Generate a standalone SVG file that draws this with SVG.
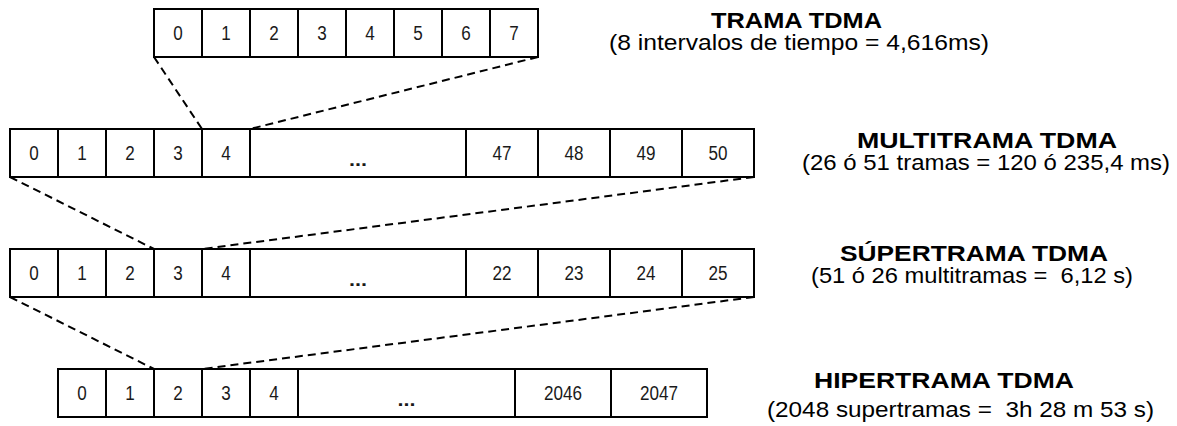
<svg xmlns="http://www.w3.org/2000/svg" width="1177" height="426" viewBox="0 0 1177 426">
  <style>
    .cell { fill: #ffffff; stroke: #000000; stroke-width: 2; }
    .num { font-family: "Liberation Sans Narrow", "Liberation Sans", Arial, sans-serif; font-size: 19.5px; fill: #1a1a1a; text-anchor: middle; }
    .dots { font-family: "Liberation Sans", Arial, sans-serif; font-size: 19px; font-weight: bold; fill: #1a1a1a; text-anchor: middle; }
    .title { font-family: "Liberation Sans", Arial, sans-serif; font-size: 22.5px; font-weight: bold; fill: #000000; text-anchor: middle; }
    .sub { font-family: "Liberation Sans", Arial, sans-serif; font-size: 21.5px; fill: #000000; text-anchor: middle; white-space: pre; }
    .link { fill: none; stroke: #000000; stroke-width: 2; stroke-dasharray: 8 5; }
  </style>

  <rect width="1177" height="426" fill="#ffffff"/>

  <!-- Connectors: dashed expansion lines between levels -->
  <g id="connectors">
    <line class="link" x1="154" y1="57" x2="202" y2="129"/>
    <line class="link" x1="538" y1="57" x2="250" y2="129"/>
    <line class="link" x1="10" y1="177" x2="154" y2="249"/>
    <line class="link" x1="754" y1="177" x2="202" y2="249"/>
    <line class="link" x1="10" y1="297" x2="154" y2="369"/>
    <line class="link" x1="754" y1="297" x2="202" y2="369"/>
  </g>

  <!-- TDMA frame: 8 timeslots -->
  <g id="trama">
    <rect class="cell" x="154" y="9" width="48" height="48"/>
    <rect class="cell" x="202" y="9" width="48" height="48"/>
    <rect class="cell" x="250" y="9" width="48" height="48"/>
    <rect class="cell" x="298" y="9" width="48" height="48"/>
    <rect class="cell" x="346" y="9" width="48" height="48"/>
    <rect class="cell" x="394" y="9" width="48" height="48"/>
    <rect class="cell" x="442" y="9" width="48" height="48"/>
    <rect class="cell" x="490" y="9" width="48" height="48"/>
    <text class="num" x="178" y="39.5" textLength="9.5" lengthAdjust="spacingAndGlyphs">0</text>
    <text class="num" x="226" y="39.5" textLength="9.5" lengthAdjust="spacingAndGlyphs">1</text>
    <text class="num" x="274" y="39.5" textLength="9.5" lengthAdjust="spacingAndGlyphs">2</text>
    <text class="num" x="322" y="39.5" textLength="9.5" lengthAdjust="spacingAndGlyphs">3</text>
    <text class="num" x="370" y="39.5" textLength="9.5" lengthAdjust="spacingAndGlyphs">4</text>
    <text class="num" x="418" y="39.5" textLength="9.5" lengthAdjust="spacingAndGlyphs">5</text>
    <text class="num" x="466" y="39.5" textLength="9.5" lengthAdjust="spacingAndGlyphs">6</text>
    <text class="num" x="514" y="39.5" textLength="9.5" lengthAdjust="spacingAndGlyphs">7</text>
  </g>
  <g id="trama-label">
    <text class="title" x="796.5" y="28" textLength="171" lengthAdjust="spacingAndGlyphs">TRAMA TDMA</text>
    <text class="sub" x="799" y="49.5" textLength="380" lengthAdjust="spacingAndGlyphs">(8 intervalos de tiempo = 4,616ms)</text>
  </g>

  <!-- Multiframe -->
  <g id="multitrama">
    <rect class="cell" x="10" y="129" width="48" height="48"/>
    <rect class="cell" x="58" y="129" width="48" height="48"/>
    <rect class="cell" x="106" y="129" width="48" height="48"/>
    <rect class="cell" x="154" y="129" width="48" height="48"/>
    <rect class="cell" x="202" y="129" width="48" height="48"/>
    <rect class="cell" x="250" y="129" width="216" height="48"/>
    <rect class="cell" x="466" y="129" width="72" height="48"/>
    <rect class="cell" x="538" y="129" width="72" height="48"/>
    <rect class="cell" x="610" y="129" width="72" height="48"/>
    <rect class="cell" x="682" y="129" width="72" height="48"/>
    <text class="num" x="34" y="160" textLength="9.5" lengthAdjust="spacingAndGlyphs">0</text>
    <text class="num" x="82" y="160" textLength="9.5" lengthAdjust="spacingAndGlyphs">1</text>
    <text class="num" x="130" y="160" textLength="9.5" lengthAdjust="spacingAndGlyphs">2</text>
    <text class="num" x="178" y="160" textLength="9.5" lengthAdjust="spacingAndGlyphs">3</text>
    <text class="num" x="226" y="160" textLength="9.5" lengthAdjust="spacingAndGlyphs">4</text>
    <text class="dots" x="358" y="166" textLength="18" lengthAdjust="spacingAndGlyphs">...</text>
    <text class="num" x="502" y="160" textLength="19" lengthAdjust="spacingAndGlyphs">47</text>
    <text class="num" x="574" y="160" textLength="19" lengthAdjust="spacingAndGlyphs">48</text>
    <text class="num" x="646" y="160" textLength="19" lengthAdjust="spacingAndGlyphs">49</text>
    <text class="num" x="718" y="160" textLength="19" lengthAdjust="spacingAndGlyphs">50</text>
  </g>
  <g id="multitrama-label">
    <text class="title" x="987" y="148" textLength="260" lengthAdjust="spacingAndGlyphs">MULTITRAMA TDMA</text>
    <text class="sub" x="986" y="170" textLength="368" lengthAdjust="spacingAndGlyphs">(26 ó 51 tramas = 120 ó 235,4 ms)</text>
  </g>

  <!-- Superframe -->
  <g id="supertrama">
    <rect class="cell" x="10" y="249" width="48" height="48"/>
    <rect class="cell" x="58" y="249" width="48" height="48"/>
    <rect class="cell" x="106" y="249" width="48" height="48"/>
    <rect class="cell" x="154" y="249" width="48" height="48"/>
    <rect class="cell" x="202" y="249" width="48" height="48"/>
    <rect class="cell" x="250" y="249" width="216" height="48"/>
    <rect class="cell" x="466" y="249" width="72" height="48"/>
    <rect class="cell" x="538" y="249" width="72" height="48"/>
    <rect class="cell" x="610" y="249" width="72" height="48"/>
    <rect class="cell" x="682" y="249" width="72" height="48"/>
    <text class="num" x="34" y="280" textLength="9.5" lengthAdjust="spacingAndGlyphs">0</text>
    <text class="num" x="82" y="280" textLength="9.5" lengthAdjust="spacingAndGlyphs">1</text>
    <text class="num" x="130" y="280" textLength="9.5" lengthAdjust="spacingAndGlyphs">2</text>
    <text class="num" x="178" y="280" textLength="9.5" lengthAdjust="spacingAndGlyphs">3</text>
    <text class="num" x="226" y="280" textLength="9.5" lengthAdjust="spacingAndGlyphs">4</text>
    <text class="dots" x="358" y="286" textLength="18" lengthAdjust="spacingAndGlyphs">...</text>
    <text class="num" x="502" y="280" textLength="19" lengthAdjust="spacingAndGlyphs">22</text>
    <text class="num" x="574" y="280" textLength="19" lengthAdjust="spacingAndGlyphs">23</text>
    <text class="num" x="646" y="280" textLength="19" lengthAdjust="spacingAndGlyphs">24</text>
    <text class="num" x="718" y="280" textLength="19" lengthAdjust="spacingAndGlyphs">25</text>
  </g>
  <g id="supertrama-label">
    <text class="title" x="974" y="261" textLength="268" lengthAdjust="spacingAndGlyphs">SÚPERTRAMA TDMA</text>
    <text class="sub" x="972" y="283" textLength="322" lengthAdjust="spacingAndGlyphs">(51 ó 26 multitramas =  6,12 s)</text>
  </g>

  <!-- Hyperframe -->
  <g id="hipertrama">
    <rect class="cell" x="58" y="369" width="48" height="48"/>
    <rect class="cell" x="106" y="369" width="48" height="48"/>
    <rect class="cell" x="154" y="369" width="48" height="48"/>
    <rect class="cell" x="202" y="369" width="48" height="48"/>
    <rect class="cell" x="250" y="369" width="48" height="48"/>
    <rect class="cell" x="298" y="369" width="217" height="48"/>
    <rect class="cell" x="515" y="369" width="96" height="48"/>
    <rect class="cell" x="611" y="369" width="96" height="48"/>
    <text class="num" x="82" y="400" textLength="9.5" lengthAdjust="spacingAndGlyphs">0</text>
    <text class="num" x="130" y="400" textLength="9.5" lengthAdjust="spacingAndGlyphs">1</text>
    <text class="num" x="178" y="400" textLength="9.5" lengthAdjust="spacingAndGlyphs">2</text>
    <text class="num" x="226" y="400" textLength="9.5" lengthAdjust="spacingAndGlyphs">3</text>
    <text class="num" x="274" y="400" textLength="9.5" lengthAdjust="spacingAndGlyphs">4</text>
    <text class="dots" x="406.5" y="406" textLength="18" lengthAdjust="spacingAndGlyphs">...</text>
    <text class="num" x="563" y="400" textLength="38" lengthAdjust="spacingAndGlyphs">2046</text>
    <text class="num" x="659" y="400" textLength="38" lengthAdjust="spacingAndGlyphs">2047</text>
  </g>
  <g id="hipertrama-label">
    <text class="title" x="944" y="388" textLength="260" lengthAdjust="spacingAndGlyphs">HIPERTRAMA TDMA</text>
    <text class="sub" x="960.5" y="417" textLength="387" lengthAdjust="spacingAndGlyphs">(2048 supertramas =  3h 28 m 53 s)</text>
  </g>
</svg>
